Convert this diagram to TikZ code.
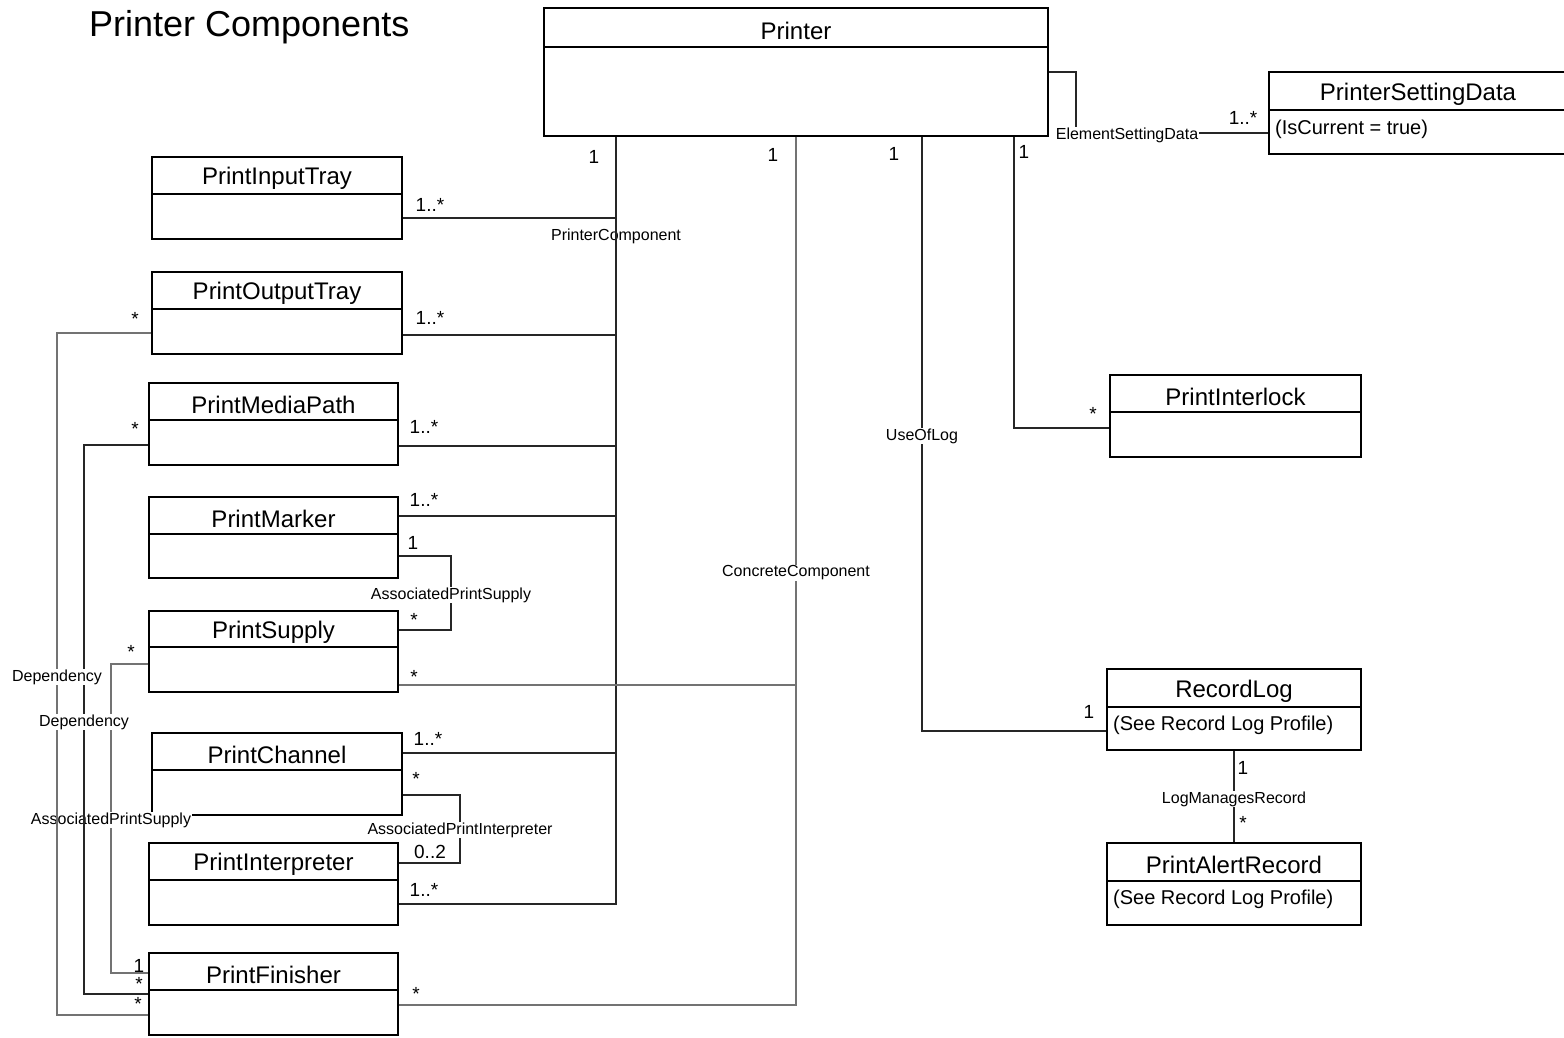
\documentclass[tikz,border=0pt]{standalone}
\usepackage{fontspec}
\setmainfont{Liberation Sans}
\usetikzlibrary{fit}
\begin{document}
\begin{tikzpicture}[x=1pt,y=-1pt,
  box/.style={draw=black, line width=1.1pt, inner sep=0pt},
  hline/.style={draw=black, line width=1.1pt},
  conn/.style={draw=black!85, line width=1.1pt},
  gconn/.style={draw=black!55, line width=1.1pt},
  cname/.style={font=\fontsize{24}{28}\selectfont, inner sep=0pt, yshift=-3pt},
  attr/.style={font=\fontsize{20}{24}\selectfont, inner sep=0pt, anchor=west, yshift=-2pt},
  mult/.style={font=\fontsize{19}{22}\selectfont, inner sep=0pt},
  alabel/.style={font=\fontsize{16}{19}\selectfont, inner sep=1pt, yshift=-2pt},
  flabel/.style={alabel, fill=white},
  titlestyle/.style={font=\fontsize{36}{42}\selectfont, inner sep=0pt, anchor=west, yshift=-2pt}
]
\newcommand\umlbox[7]{%
  \node[box, fit={(#2,#3) (#4,#5)}] (#1) {};
  \draw[hline] (#2,#6) -- (#4,#6);
  \node[cname] (#1t) at ({(#2+#4)/2},{(#3+#6)/2}) {#7};
}
\useasboundingbox (0,0) rectangle (1564,1037);
\fill[white] (0,0) rectangle (1564,1037);

\node[titlestyle] (title) at (89,25) {Printer Components};

% boxes
\umlbox{printer}{544}{8}{1048}{136}{47}{Printer}
\umlbox{psd}{1269}{72}{1567}{154}{110}{PrinterSettingData}
\umlbox{pilk}{1110}{375}{1361}{457}{412}{PrintInterlock}
\umlbox{rlog}{1107}{669}{1361}{750}{707}{RecordLog}
\umlbox{palert}{1107}{843}{1361}{925}{881}{PrintAlertRecord}
\umlbox{pit}{152}{157}{402}{239}{194}{PrintInputTray}
\umlbox{pot}{152}{272}{402}{354}{309}{PrintOutputTray}
\umlbox{pmp}{149}{383}{398}{465}{420}{PrintMediaPath}
\umlbox{pmk}{149}{497}{398}{578}{534}{PrintMarker}
\umlbox{psup}{149}{611}{398}{692}{647}{PrintSupply}
\umlbox{pch}{152}{733}{402}{815}{770}{PrintChannel}
\umlbox{pint}{149}{843}{398}{925}{880}{PrintInterpreter}
\umlbox{pfin}{149}{953}{398}{1035}{990}{PrintFinisher}

\node[attr] (psda) at (1275,127) {(IsCurrent = true)};
\node[attr] (rloga) at (1113,723) {(See Record Log Profile)};
\node[attr] (palerta) at (1113,897) {(See Record Log Profile)};

% trunks
\coordinate (b1) at (616,136);
\coordinate (b2) at (796,136);
\coordinate (b3) at (922,136);
\coordinate (b4) at (1014,136);
\coordinate (e1) at (1076,72);

% PrinterComponent
\node[alabel] (lpc) at (616,234) {PrinterComponent};
\draw[conn] (pit.east |- 0,218) -- (b1 |- 0,218);
\draw[conn] (pot.east |- 0,335) -- (b1 |- 0,335);
\draw[conn] (pmp.east |- 0,446) -- (b1 |- 0,446);
\draw[conn] (pmk.east |- 0,516) -- (b1 |- 0,516);
\draw[conn] (pch.east |- 0,753) -- (b1 |- 0,753);
\draw[conn] (printer.south -| b1) -- (b1 |- 0,904) -- (pint.east |- 0,904);

% ConcreteComponent
\draw[gconn] (psup.east |- 0,685) -- (b2 |- 0,685);
\draw[gconn] (printer.south -| b2) -- (b2 |- 0,1005) -- (pfin.east |- 0,1005);
\node[flabel] (lcc) at (796,571) {ConcreteComponent};

% UseOfLog
\draw[conn] (printer.south -| b3) -- (b3 |- 0,731) -- (rlog.west |- 0,731);
\node[flabel] (lul) at (922,434) {UseOfLog};

% PrintInterlock
\draw[conn] (printer.south -| b4) -- (b4 |- 0,428) -- (pilk.west |- 0,428);

% ElementSettingData
\draw[conn] (printer.east |- e1) -- (e1) -- (e1 |- 0,133) -- (psd.west |- 0,133);
\node[flabel] (lesd) at (1127,133) {ElementSettingData};

% LogManagesRecord
\draw[conn] (rlog.south -| 1234,0) -- (palert.north -| 1234,0);
\node[flabel] (llmr) at (1234,797) {LogManagesRecord};

% AssociatedPrintSupply (marker-supply)
\draw[conn] (pmk.east |- 0,556) -- (451,556) -- (451,630) -- (psup.east |- 0,630);
\node[flabel] (laps1) at (451,593) {AssociatedPrintSupply};

% AssociatedPrintInterpreter
\draw[conn] (pch.east |- 0,795) -- (460,795) -- (460,863) -- (pint.east |- 0,863);
\node[flabel] (lapi) at (460,828) {AssociatedPrintInterpreter};

% AssociatedPrintSupply (supply-finisher)
\draw[gconn] (psup.west |- 0,664) -- (111,664) -- (111,973) -- (pfin.west |- 0,973);
\node[flabel] (laps2) at (111,818) {AssociatedPrintSupply};

% Dependencies
\draw[gconn] (pot.west |- 0,333) -- (57,333) -- (57,1015) -- (pfin.west |- 0,1015);
\draw[conn] (pmp.west |- 0,445) -- (84,445) -- (84,994) -- (pfin.west |- 0,994);
\node[flabel] (ldep1) at (57,675) {Dependency};
\node[flabel] (ldep2) at (84,720) {Dependency};

% multiplicities
\node[mult] at (594,157) {1};
\node[mult] at (773,155) {1};
\node[mult] at (894,154) {1};
\node[mult] at (1024,152) {1};
\node[mult] at (1243,118) {1..*};
\node[mult] at (1093,414) {*};
\node[mult] at (1089,712) {1};
\node[mult] at (1243,768) {1};
\node[mult] at (1243,823) {*};

\node[mult] at (430,205) {1..*};
\node[mult] at (430,318) {1..*};
\node[mult] at (424,427) {1..*};
\node[mult] at (424,500) {1..*};
\node[mult] at (413,543) {1};
\node[mult] at (414,620) {*};
\node[mult] at (414,677) {*};
\node[mult] at (428,739) {1..*};
\node[mult] at (416,779) {*};
\node[mult] at (430,852) {0..2};
\node[mult] at (424,890) {1..*};
\node[mult] at (416,994) {*};

\node[mult] at (135,319) {*};
\node[mult] at (135,429) {*};
\node[mult] at (131,652) {*};
\node[mult] at (139,966) {1};
\node[mult] at (139,984) {*};
\node[mult] at (138,1004) {*};
\end{tikzpicture}
\end{document}
